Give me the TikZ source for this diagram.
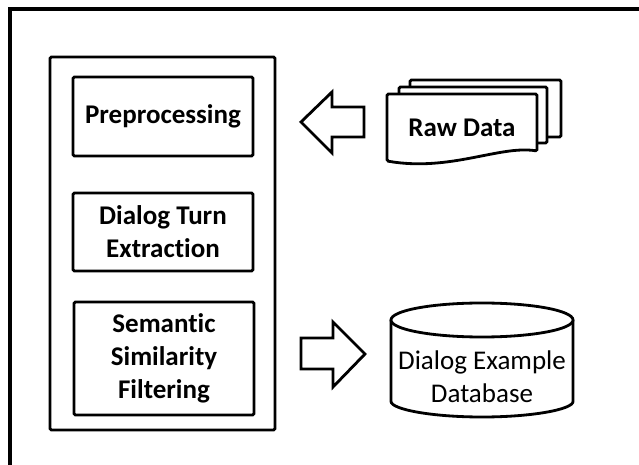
\documentclass[tikz,border=0pt]{standalone}
\usepackage{fontspec}
\setmainfont{Carlito}[Ligatures=NoCommon]
\usetikzlibrary{positioning}
\begin{document}
\begin{tikzpicture}[x=0.025cm, y=-0.025cm,
    stage/.style={rectangle, draw=black, fill=white, line width=2pt, rounded corners=1pt, font=\bfseries\fontsize{19.2}{23.5}\selectfont, align=center, minimum width=4.5cm},
    page/.style={draw=black, fill=white, line width=2pt, rounded corners=1pt},
    blockarrow/.style={draw=black, fill=white, line width=2pt},
    label/.style={font=\fontsize{19.2}{23.5}\selectfont, align=center}]
    \useasboundingbox (0,0) rectangle (639,465);
    \clip (0,0) rectangle (639,465);
    \draw[line width=2.4pt] (10,9) rectangle (680,500);

    % pipeline
    \node[stage, minimum width=5.625cm, minimum height=9.325cm](pipeline) at (162.5,243.5) {};
    \node[stage, minimum height=1.975cm](prep) at (163,116.5) {Preprocessing};
    \node[stage, minimum height=1.95cm](turn) at (163,232) {Dialog Turn\\Extraction};
    \node[stage, minimum height=2.825cm](filter) at (164,358.5) {Semantic\\Similarity\\Filtering};

    % raw data pages
    \draw[page] (410,80) rectangle (561,137);
    \draw[page] (399,87) rectangle (547,143);
    \draw[page] (387,161) -- (387,94) -- (537,94) -- (537,151) .. controls (500,145) and (450,172) .. (387,161) -- cycle;
    \node[label, font=\bfseries\fontsize{19.2}{23.5}\selectfont](raw) at (462,128) {Raw Data};

    % database
    \draw[page] (391,320) -- (391,400) arc[start angle=180, end angle=360, x radius=2.275cm, y radius=0.425cm] -- (573,320);
    \draw[page] (482,320) ellipse[x radius=2.275cm, y radius=0.425cm];
    \node[label](db) at (482,377) {Dialog Example\\Database};

    % arrows
    \draw[blockarrow] (301,122) -- (332,92) -- (332,107) -- (364,107) -- (364,137) -- (332,137) -- (332,153) -- cycle;
    \draw[blockarrow] (301,338) -- (333,338) -- (333,322) -- (365,354) -- (333,387) -- (333,369) -- (301,369) -- cycle;
\end{tikzpicture}
\end{document}
